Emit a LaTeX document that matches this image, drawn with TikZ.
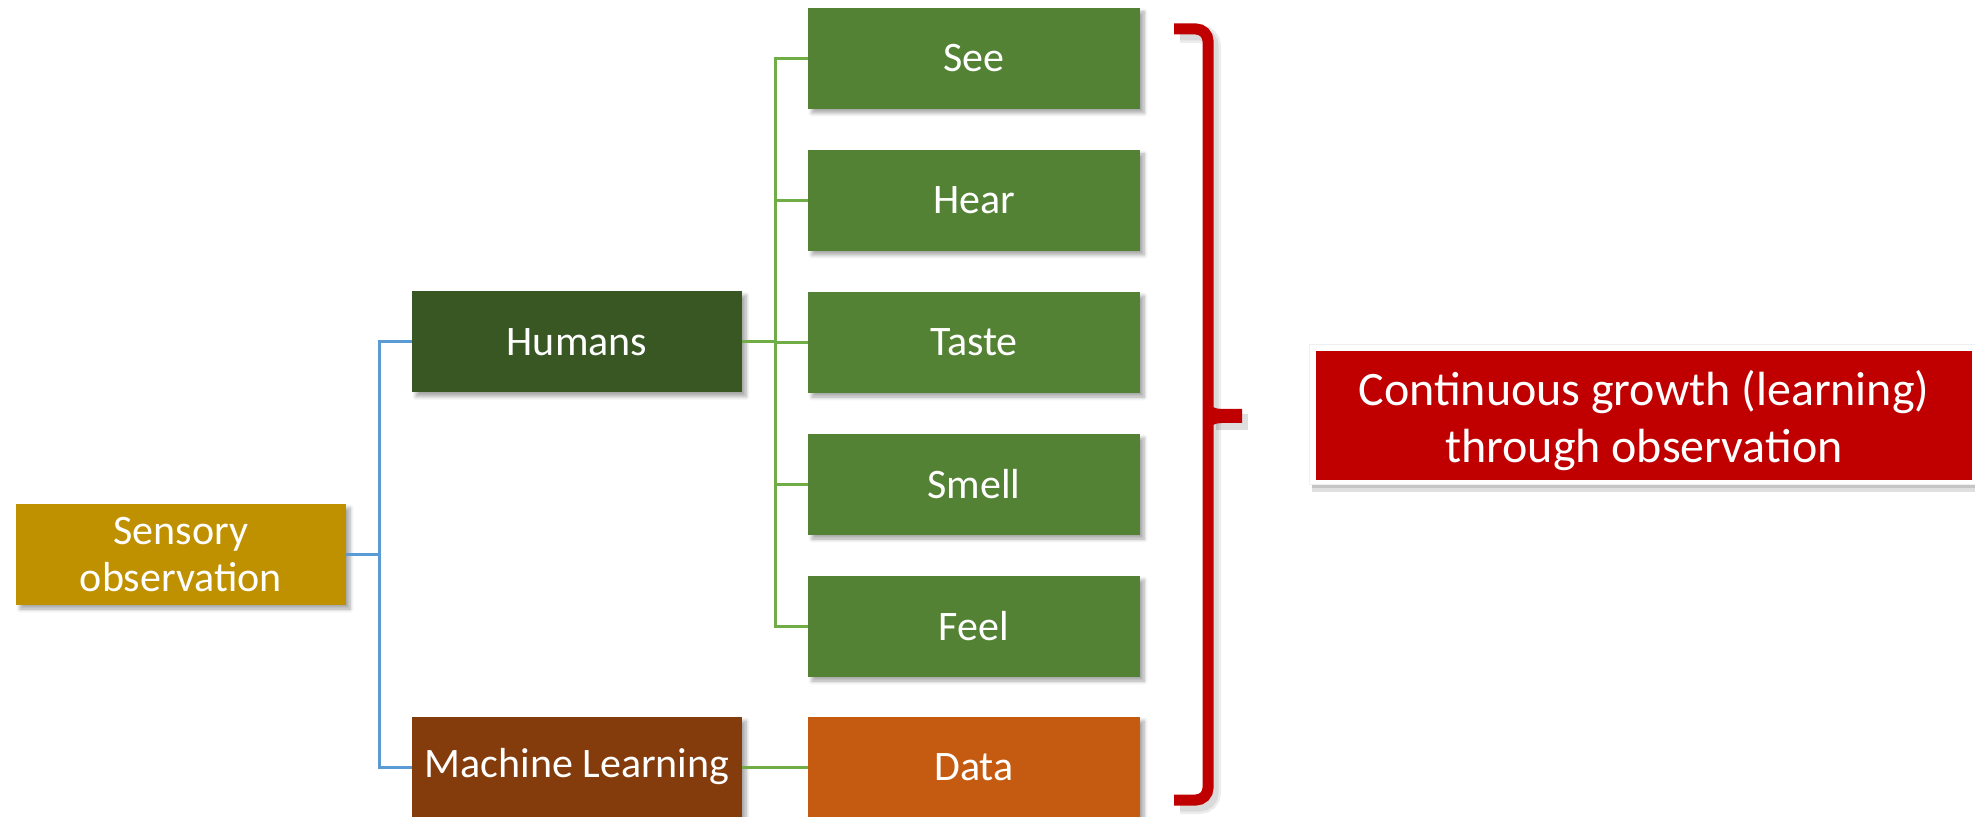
\documentclass[tikz,border=0pt]{standalone}
\usepackage{fontspec}
\setmainfont{Carlito}
\usetikzlibrary{shadows.blur}
\definecolor{sensC}{HTML}{BF9000}
\definecolor{humC}{HTML}{385723}
\definecolor{grnC}{HTML}{548235}
\definecolor{mlC}{HTML}{843C0C}
\definecolor{dataC}{HTML}{C55A11}
\definecolor{redC}{HTML}{C00000}
\definecolor{blueL}{HTML}{5B9BD5}
\definecolor{greenL}{HTML}{70AD47}
\tikzset{
  box/.style={minimum width=165pt, minimum height=50.5pt, inner sep=0pt, text=white,
    font=\fontsize{21}{23.5}\selectfont, align=center,
    blur shadow={shadow xshift=2pt, shadow yshift=-2pt, shadow blur steps=6, shadow blur extra rounding=0pt, shadow opacity=35}},
  blueline/.style={draw=blueL, line width=1.5pt},
  greenline/.style={draw=greenL, line width=1.5pt},
  bracepath/.style={draw=redC, line width=5.5pt},
}
\begin{document}
\begin{tikzpicture}[x=0.5pt,y=-0.5pt]
\useasboundingbox (0,0) rectangle (1975,817);
% boxes
\node[box, fill=sensC] (sens) at (181,554.5) {Sensory\\observation};
\node[box, fill=humC] (hum) at (577,342) {Humans};
\node[box, fill=mlC, minimum height=50pt] (ml) at (577,767) {Machine Learning};
\node[box, fill=grnC, minimum width=166pt] (see) at (974,58.5) {See};
\node[box, fill=grnC, minimum width=166pt] (hear) at (974,200.5) {Hear};
\node[box, fill=grnC, minimum width=166pt] (taste) at (974,342.5) {Taste};
\node[box, fill=grnC, minimum width=166pt] (smell) at (974,484.5) {Smell};
\node[box, fill=grnC, minimum width=166pt] (feel) at (974,626.5) {Feel};
\node[box, fill=dataC, minimum width=166pt, minimum height=50pt] (data) at (974,767) {Data};
% connector columns
\coordinate (bx) at (379,0);
\coordinate (gx) at (775,0);
% blue connectors
\draw[blueline] (hum.west) -- (hum.west -| bx) -- (ml.west -| bx) -- (ml.west);
\draw[blueline] (sens.east) -- (sens.east -| bx);
% green connectors
\draw[greenline] (see.west) -- (see.west -| gx) -- (feel.west -| gx) -- (feel.west);
\draw[greenline] (hear.west) -- (hear.west -| gx);
\draw[greenline] (taste.west) -- (taste.west -| gx);
\draw[greenline] (smell.west) -- (smell.west -| gx);
\draw[greenline] (hum.east) -- (hum.east -| gx);
\draw[greenline] (ml.east) -- (data.west);
% brace shadow
\begin{scope}[shift={(4,5)}]
\draw[black, opacity=0.07, line width=9pt] (1176,29) -- (1196,29) to[out=0,in=90] (1208,41) -- (1208,788) to[out=-90,in=0] (1196,800) -- (1176,800);
\draw[black, opacity=0.08, line width=6.5pt] (1176,29) -- (1196,29) to[out=0,in=90] (1208,41) -- (1208,788) to[out=-90,in=0] (1196,800) -- (1176,800);
\fill[black, opacity=0.13] (1212,409) -- (1244,409) -- (1244,425) -- (1212,425) -- cycle;
\end{scope}
% brace
\draw[bracepath] (1174,29) -- (1196,29) to[out=0,in=90] (1208,41) -- (1208,788) to[out=-90,in=0] (1196,800) -- (1174,800);
\fill[redC] (1208,400) to[out=-90,in=180] (1222,409) -- (1242,409) -- (1242,423) -- (1222,423) to[out=180,in=90] (1208,432) -- cycle;
% result box
\fill[black, opacity=0.12] (1312,356) rectangle (1975,492);
\fill[black, opacity=0.12] (1312,356) rectangle (1975,488);
\filldraw[fill=white, draw=black!6, line width=0.5pt] (1309,345) rectangle (1975,485);
\node[fill=redC, minimum width=328pt, minimum height=64.5pt, inner sep=0pt,
  label={[yshift=-2.5pt, inner sep=0pt, text=white, font=\fontsize{24}{28.5}\selectfont, align=center]center:{Continuous growth (learning)\\through observation}}] (res) at (1644,415.5) {};
\end{tikzpicture}
\end{document}
